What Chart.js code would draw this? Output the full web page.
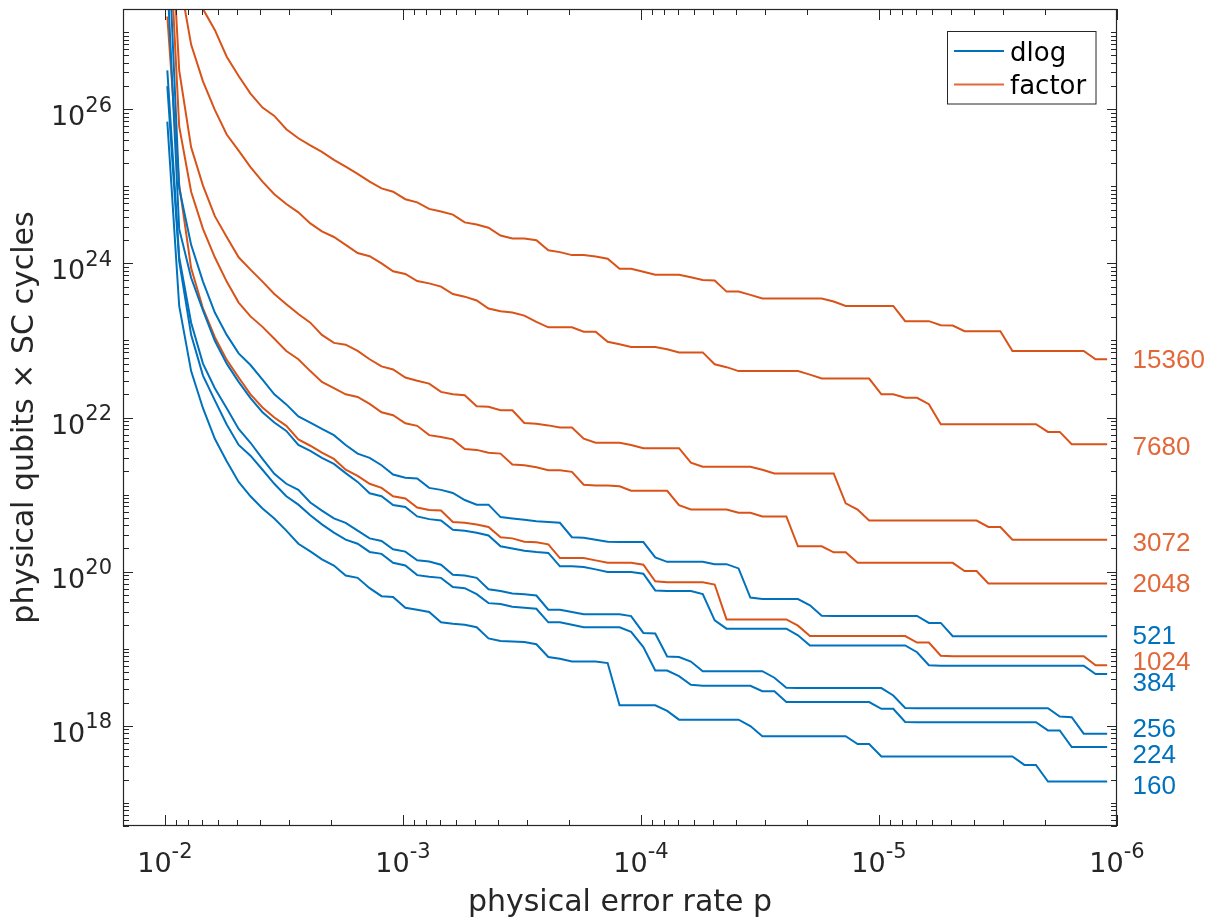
<!DOCTYPE html>
<html>
<head>
<meta charset="utf-8">
<title>physical qubits × SC cycles vs physical error rate</title>
<script src="https://cdn.jsdelivr.net/npm/chart.js@4.4.1/dist/chart.umd.min.js"></script>
<style>
  html, body { margin: 0; padding: 0; background: #fff; }
  canvas { display: block; }
</style>
</head>
<body>
<canvas id="costChart" width="1215" height="917"></canvas>
<script>
// physical error rates p where every curve was evaluated (20 per decade)
const errorRates = [
  9.77e-3, 8.71e-3, 7.76e-3, 6.92e-3, 6.17e-3, 5.50e-3, 4.90e-3, 4.37e-3, 3.89e-3, 3.47e-3,
  3.09e-3, 2.75e-3, 2.45e-3, 2.19e-3, 1.95e-3, 1.74e-3, 1.55e-3, 1.38e-3, 1.23e-3, 1.10e-3,
  9.77e-4, 8.71e-4, 7.76e-4, 6.92e-4, 6.17e-4, 5.50e-4, 4.90e-4, 4.37e-4, 3.89e-4, 3.47e-4,
  3.09e-4, 2.75e-4, 2.45e-4, 2.19e-4, 1.95e-4, 1.74e-4, 1.55e-4, 1.38e-4, 1.23e-4, 1.10e-4,
  9.77e-5, 8.71e-5, 7.76e-5, 6.92e-5, 6.17e-5, 5.50e-5, 4.90e-5, 4.37e-5, 3.89e-5, 3.47e-5,
  3.09e-5, 2.75e-5, 2.45e-5, 2.19e-5, 1.95e-5, 1.74e-5, 1.55e-5, 1.38e-5, 1.23e-5, 1.10e-5,
  9.77e-6, 8.71e-6, 7.76e-6, 6.92e-6, 6.17e-6, 5.50e-6, 4.90e-6, 4.37e-6, 3.89e-6, 3.47e-6,
  3.09e-6, 2.75e-6, 2.45e-6, 2.19e-6, 1.95e-6, 1.74e-6, 1.55e-6, 1.38e-6, 1.23e-6, 1.10e-6
];

// physical qubits x SC cycles, discrete log problem (bits)
const dlog160 = [
  6.9e25, 2.8e23, 4.0e22, 1.32e22, 5.3e21, 2.7e21, 1.46e21, 9.5e20, 6.6e20, 4.9e20,
  3.4e20, 2.3e20, 1.83e20, 1.44e20, 1.2e20, 8.9e19, 8.3e19, 6.1e19, 4.8e19, 4.7e19,
  3.4e19, 3.2e19, 3.0e19, 2.2e19, 2.1e19, 2.05e19, 1.9e19, 1.36e19, 1.26e19, 1.24e19,
  1.22e19, 1.14e19, 7.8e18, 7.4e18, 6.8e18, 6.8e18, 6.8e18, 6.5e18, 1.84e18, 1.84e18,
  1.84e18, 1.84e18, 1.56e18, 1.2e18, 1.2e18, 1.2e18, 1.2e18, 1.2e18, 1.2e18, 9.9e17,
  7.3e17, 7.3e17, 7.3e17, 7.3e17, 7.3e17, 7.3e17, 7.3e17, 7.3e17, 5.8e17, 5.8e17,
  4.0e17, 4.0e17, 4.0e17, 4.0e17, 4.0e17, 4.0e17, 4.0e17, 4.0e17, 4.0e17, 4.0e17,
  4.0e17, 4.0e17, 3.1e17, 3.1e17, 1.89e17, 1.89e17, 1.89e17, 1.89e17, 1.89e17, 1.89e17
];
const dlog224 = [
  2.0e26, 1.07e24, 1.18e23, 3.5e22, 1.67e22, 8.1e21, 4.4e21, 3.2e21, 2.1e21, 1.38e21,
  9.5e20, 7.4e20, 5.4e20, 4.1e20, 3.2e20, 2.6e20, 2.3e20, 1.8e20, 1.7e20, 1.3e20,
  1.2e20, 9.0e19, 8.6e19, 8.3e19, 6.3e19, 6.1e19, 5.1e19, 3.9e19, 3.8e19, 3.5e19,
  3.4e19, 3.3e19, 2.2e19, 2.2e19, 2.04e19, 1.9e19, 1.9e19, 1.9e19, 1.9e19, 1.65e19,
  1.05e19, 5.2e18, 5.2e18, 4.4e18, 3.4e18, 3.3e18, 3.3e18, 3.3e18, 3.3e18, 3.3e18,
  2.8e18, 2.8e18, 2.04e18, 2.03e18, 2.03e18, 2.03e18, 2.03e18, 2.03e18, 2.03e18, 2.03e18,
  1.66e18, 1.66e18, 1.12e18, 1.11e18, 1.11e18, 1.11e18, 1.11e18, 1.11e18, 1.11e18, 1.11e18,
  1.11e18, 1.11e18, 1.11e18, 1.11e18, 8.7e17, 8.7e17, 5.3e17, 5.3e17, 5.3e17, 5.3e17
];
const dlog256 = [
  3.2e26, 1.2e24, 1.7e23, 5.0e22, 2.4e22, 1.32e22, 7.1e21, 4.7e21, 2.9e21, 1.86e21,
  1.38e21, 1.15e21, 7.9e20, 6.2e20, 4.9e20, 4.3e20, 3.4e20, 2.7e20, 2.5e20, 1.95e20,
  1.82e20, 1.4e20, 1.35e20, 1.23e20, 9.1e19, 8.9e19, 8.3e19, 5.9e19, 5.6e19, 5.2e19,
  5.1e19, 4.9e19, 3.2e19, 3.2e19, 3.0e19, 2.8e19, 2.8e19, 2.8e19, 2.8e19, 2.65e19,
  1.6e19, 1.57e19, 7.9e18, 7.8e18, 6.8e18, 5.1e18, 5.1e18, 5.1e18, 5.1e18, 5.1e18,
  5.1e18, 4.2e18, 3.1e18, 3.08e18, 3.08e18, 3.08e18, 3.08e18, 3.08e18, 3.08e18, 3.08e18,
  3.08e18, 2.47e18, 1.7e18, 1.69e18, 1.69e18, 1.69e18, 1.69e18, 1.69e18, 1.69e18, 1.69e18,
  1.69e18, 1.69e18, 1.69e18, 1.69e18, 1.69e18, 1.32e18, 1.29e18, 7.9e17, 7.9e17, 7.9e17
];
const dlog384 = [
  5e27, 2.8e24, 6.5e23, 2.45e23, 9.9e22, 5.0e22, 2.9e22, 1.78e22, 1.17e22, 8.6e21,
  6.7e21, 4.4e21, 3.7e21, 3.0e21, 2.5e21, 1.9e21, 1.46e21, 1.04e21, 9.5e20, 7.3e20,
  6.9e20, 5.2e20, 4.8e20, 4.6e20, 3.5e20, 3.4e20, 3.2e20, 2.95e20, 2.13e20, 2.0e20,
  1.87e20, 1.8e20, 1.75e20, 1.17e20, 1.17e20, 1.15e20, 1.07e20, 9.9e19, 9.9e19, 9.9e19,
  9.4e19, 5.7e19, 5.6e19, 5.6e19, 5.6e19, 5.1e19, 2.33e19, 1.82e19, 1.82e19, 1.82e19,
  1.82e19, 1.82e19, 1.82e19, 1.49e19, 1.1e19, 1.1e19, 1.1e19, 1.1e19, 1.1e19, 1.1e19,
  1.1e19, 1.1e19, 1.1e19, 9.0e18, 6.1e18, 6.0e18, 6.0e18, 6.0e18, 6.0e18, 6.0e18,
  6.0e18, 6.0e18, 6.0e18, 6.0e18, 6.0e18, 6.0e18, 6.0e18, 6.0e18, 4.7e18, 4.7e18
];
const dlog521 = [
  3e28, 9.5e24, 1.74e24, 5.8e23, 2.3e23, 1.18e23, 6.8e22, 4.8e22, 3.1e22, 2.0e22,
  1.48e22, 1.03e22, 8.6e21, 7.1e21, 5.9e21, 4.4e21, 3.4e21, 3.0e21, 2.4e21, 1.82e21,
  1.65e21, 1.62e21, 1.22e21, 1.15e21, 1.05e21, 8.5e20, 7.4e20, 7.4e20, 5.1e20, 4.9e20,
  4.7e20, 4.5e20, 4.4e20, 4.3e20, 2.8e20, 2.75e20, 2.6e20, 2.44e20, 2.42e20, 2.42e20,
  2.42e20, 1.53e20, 1.34e20, 1.34e20, 1.34e20, 1.34e20, 1.25e20, 1.25e20, 1.1e20, 4.6e19,
  4.4e19, 4.4e19, 4.4e19, 4.4e19, 3.65e19, 2.67e19, 2.66e19, 2.66e19, 2.66e19, 2.66e19,
  2.66e19, 2.66e19, 2.66e19, 2.66e19, 2.16e19, 2.16e19, 1.45e19, 1.45e19, 1.45e19, 1.45e19,
  1.45e19, 1.45e19, 1.45e19, 1.45e19, 1.45e19, 1.45e19, 1.45e19, 1.45e19, 1.45e19, 1.45e19
];

// physical qubits x SC cycles, factoring (bits)
const factor1024 = [
  1.6e27, 1.05e25, 8.7e23, 2.6e23, 1.1e23, 5.6e22, 3.3e22, 2.0e22, 1.35e22, 1.0e22,
  7.8e21, 5.2e21, 4.3e21, 3.5e21, 2.9e21, 2.1e21, 1.75e21, 1.38e21, 1.22e21, 9.5e20,
  8.9e20, 6.8e20, 6.3e20, 6.2e20, 4.4e20, 4.3e20, 4.1e20, 3.8e20, 2.8e20, 2.7e20,
  2.44e20, 2.4e20, 2.26e20, 1.5e20, 1.5e20, 1.5e20, 1.4e20, 1.3e20, 1.3e20, 1.3e20,
  1.23e20, 7.5e19, 7.3e19, 7.3e19, 7.3e19, 7.3e19, 6.8e19, 2.4e19, 2.4e19, 2.4e19,
  2.4e19, 2.4e19, 2.4e19, 1.99e19, 1.46e19, 1.46e19, 1.46e19, 1.46e19, 1.46e19, 1.46e19,
  1.46e19, 1.46e19, 1.46e19, 1.2e19, 1.2e19, 8.1e18, 8.0e18, 8.0e18, 8.0e18, 8.0e18,
  8.0e18, 8.0e18, 8.0e18, 8.0e18, 8.0e18, 8.0e18, 8.0e18, 8.0e18, 6.1e18, 6.1e18
];
const factor2048 = [
  6.6e28, 6.0e25, 8.5e24, 2.8e24, 1.2e24, 5.8e23, 3.1e23, 2.05e23, 1.5e23, 1.05e23,
  7.3e22, 5.7e22, 4.0e22, 2.9e22, 2.4e22, 2.0e22, 1.85e22, 1.5e22, 1.17e22, 1.07e22,
  8.4e21, 7.8e21, 5.9e21, 5.6e21, 5.2e21, 3.9e21, 3.8e21, 3.5e21, 3.4e21, 2.45e21,
  2.4e21, 2.26e21, 2.07e21, 2.07e21, 1.97e21, 1.34e21, 1.31e21, 1.31e21, 1.28e21, 1.12e21,
  1.12e21, 1.12e21, 1.12e21, 7.3e20, 6.4e20, 6.4e20, 6.4e20, 6.4e20, 5.8e20, 5.8e20,
  5.2e20, 5.2e20, 5.2e20, 2.13e20, 2.13e20, 2.13e20, 1.78e20, 1.78e20, 1.3e20, 1.3e20,
  1.3e20, 1.3e20, 1.3e20, 1.3e20, 1.3e20, 1.3e20, 1.3e20, 1.02e20, 1.02e20, 7.0e19,
  7.0e19, 7.0e19, 7.0e19, 7.0e19, 7.0e19, 7.0e19, 7.0e19, 7.0e19, 7.0e19, 7.0e19
];
const factor3072 = [
  2.2e29, 3.2e26, 3.2e25, 1.02e25, 4.1e24, 2.2e24, 1.2e24, 8.3e23, 5.8e23, 4.0e23,
  2.95e23, 2.2e23, 1.7e23, 1.18e23, 9.3e22, 8.8e22, 7.3e22, 5.7e22, 4.6e22, 4.2e22,
  3.3e22, 3.0e22, 2.75e22, 2.15e22, 2.0e22, 1.95e22, 1.4e22, 1.38e22, 1.24e22, 1.24e22,
  8.5e21, 8.3e21, 7.9e21, 7.4e21, 7.4e21, 5.3e21, 4.7e21, 4.7e21, 4.7e21, 4.4e21,
  4.0e21, 4.0e21, 4.0e21, 4.0e21, 2.6e21, 2.3e21, 2.3e21, 2.3e21, 2.3e21, 2.3e21,
  2.1e21, 1.88e21, 1.88e21, 1.88e21, 1.88e21, 1.88e21, 1.88e21, 7.7e20, 6.4e20, 4.6e20,
  4.6e20, 4.6e20, 4.6e20, 4.6e20, 4.6e20, 4.6e20, 4.6e20, 4.6e20, 4.6e20, 3.8e20,
  3.8e20, 2.6e20, 2.6e20, 2.6e20, 2.6e20, 2.6e20, 2.6e20, 2.6e20, 2.6e20, 2.6e20
];
const factor7680 = [
  2.3e29, 5.2e27, 6.9e26, 2.3e26, 9.8e25, 4.7e25, 2.9e25, 1.78e25, 1.15e25, 7.9e24,
  5.9e24, 4.6e24, 3.3e24, 2.6e24, 2.2e24, 1.74e24, 1.36e24, 1.24e24, 1.0e24, 7.9e23,
  7.3e23, 5.9e23, 5.5e23, 5.0e23, 4.0e23, 3.7e23, 3.3e23, 2.6e23, 2.4e23, 2.3e23,
  2.1e23, 1.74e23, 1.48e23, 1.48e23, 1.48e23, 1.3e23, 1.3e23, 9.6e22, 8.9e22, 8.2e22,
  8.2e22, 8.2e22, 7.7e22, 7.0e22, 7.0e22, 7.0e22, 4.9e22, 4.5e22, 4.0e22, 4.0e22,
  4.0e22, 4.0e22, 4.0e22, 4.0e22, 3.6e22, 3.2e22, 3.2e22, 3.2e22, 3.2e22, 3.2e22,
  2.0e22, 2.0e22, 1.8e22, 1.8e22, 1.49e22, 8.2e21, 8.2e21, 8.2e21, 8.2e21, 8.2e21,
  8.2e21, 8.2e21, 8.2e21, 8.2e21, 6.5e21, 6.5e21, 4.5e21, 4.5e21, 4.5e21, 4.5e21
];
const factor15360 = [
  1e30, 7e28, 6.4e27, 2.0e27, 1.07e27, 4.8e26, 2.7e26, 1.6e26, 1.05e26, 8.2e25,
  5.5e25, 4.2e25, 3.4e25, 2.8e25, 2.2e25, 1.8e25, 1.45e25, 1.15e25, 9.4e24, 8.5e24,
  6.8e24, 6.2e24, 5.1e24, 4.7e24, 4.3e24, 3.4e24, 3.2e24, 2.9e24, 2.3e24, 2.1e24,
  2.1e24, 2.0e24, 1.48e24, 1.4e24, 1.28e24, 1.28e24, 1.23e24, 1.15e24, 8.5e23, 8.5e23,
  7.8e23, 7.1e23, 7.1e23, 7.1e23, 6.6e23, 6.1e23, 6.0e23, 4.3e23, 4.3e23, 3.9e23,
  3.5e23, 3.5e23, 3.5e23, 3.5e23, 3.5e23, 3.5e23, 3.2e23, 2.8e23, 2.8e23, 2.8e23,
  2.8e23, 2.8e23, 1.78e23, 1.78e23, 1.78e23, 1.58e23, 1.56e23, 1.32e23, 1.32e23, 1.32e23,
  1.32e23, 7.3e22, 7.3e22, 7.3e22, 7.3e22, 7.3e22, 7.3e22, 7.3e22, 5.7e22, 5.7e22
];

// axis ticks
const xMajorTicks = [1e-2, 1e-3, 1e-4, 1e-5, 1e-6];
const xTickExponents = ['-2', '-3', '-4', '-5', '-6'];
const yMajorTicks = [1e18, 1e20, 1e22, 1e24, 1e26];
const yTickExponents = ['18', '20', '22', '24', '26'];

// key sizes written next to the curve ends
const endLabels = ['15360', '7680', '3072', '2048', '521', '1024', '384', '256', '224', '160'];
const endLabelValues = [5.4e22, 4.0e21, 2.3e20, 6.7e19, 1.43e19, 6.6e18, 3.5e18, 8.8e17, 4.1e17, 1.6e17];
const endLabelGroups = ['factor', 'factor', 'factor', 'factor', 'dlog', 'factor', 'dlog', 'dlog', 'dlog', 'dlog'];
const endLabelP = 8.6e-7;

const legendNames = ['dlog', 'factor'];

const AXIS_COLOR = '#262626';
const COLORS = { dlog: '#0072BD', factor: '#D95319' };
const TEXT_COLORS = { dlog: '#0072BD', factor: '#E2683A' };
const FONT = '"DejaVu Sans"';

function toPoints(values) {
  return errorRates.map((p, i) => ({ x: p, y: values[i] }));
}

const curves = [
  { label: 'dlog 160', values: dlog160, group: 'dlog' },
  { label: 'dlog 224', values: dlog224, group: 'dlog' },
  { label: 'dlog 256', values: dlog256, group: 'dlog' },
  { label: 'dlog 384', values: dlog384, group: 'dlog' },
  { label: 'dlog 521', values: dlog521, group: 'dlog' },
  { label: 'factor 1024', values: factor1024, group: 'factor' },
  { label: 'factor 2048', values: factor2048, group: 'factor' },
  { label: 'factor 3072', values: factor3072, group: 'factor' },
  { label: 'factor 7680', values: factor7680, group: 'factor' },
  { label: 'factor 15360', values: factor15360, group: 'factor' }
];

// k * 10^e values inside [min, max] that are not major ticks
function minorTicks(min, max, majors) {
  const out = [];
  for (let e = Math.floor(Math.log10(min)); e <= Math.ceil(Math.log10(max)); e++) {
    for (let k = 1; k <= 9; k++) {
      const v = k * Math.pow(10, e);
      if (v < min * 0.999 || v > max * 1.001) continue;
      if (majors.some(m => Math.abs(m - v) / m < 1e-6)) continue;
      out.push(v);
    }
  }
  return out;
}

// "10" with a raised exponent
function powerLabel(ctx, exp, anchorX, baseline, supBaseline, align) {
  ctx.font = '27px ' + FONT;
  const wBase = ctx.measureText('10').width;
  ctx.font = '21px ' + FONT;
  const wExp = ctx.measureText(exp).width;
  const left = align === 'center' ? anchorX - (wBase + wExp) / 2 : anchorX - wBase - wExp;
  ctx.textAlign = 'left';
  ctx.textBaseline = 'alphabetic';
  ctx.font = '27px ' + FONT;
  ctx.fillText('10', left, baseline);
  ctx.font = '21px ' + FONT;
  ctx.fillText(exp, left + wBase, supBaseline);
}

const matlabFrame = {
  id: 'matlabFrame',
  afterDraw(chart) {
    const { ctx, chartArea: area } = chart;
    const xs = chart.scales.x;
    const ys = chart.scales.y;
    ctx.save();

    // box
    ctx.strokeStyle = AXIS_COLOR;
    ctx.lineWidth = 1.2;
    ctx.strokeRect(area.left + 0.5, area.top + 0.5, area.right - area.left - 1, area.bottom - area.top - 1);

    // inward ticks on all four sides
    ctx.lineWidth = 1;
    ctx.beginPath();
    const xTick = (v, len) => {
      const px = Math.round(xs.getPixelForValue(v)) + 0.5;
      ctx.moveTo(px, area.bottom); ctx.lineTo(px, area.bottom - len);
      ctx.moveTo(px, area.top); ctx.lineTo(px, area.top + len);
    };
    const yTick = (v, len) => {
      const py = Math.round(ys.getPixelForValue(v)) + 0.5;
      ctx.moveTo(area.left, py); ctx.lineTo(area.left + len, py);
      ctx.moveTo(area.right, py); ctx.lineTo(area.right - len, py);
    };
    minorTicks(xs.min, xs.max, xMajorTicks).forEach(v => xTick(v, 6));
    xMajorTicks.forEach(v => xTick(v, 11));
    minorTicks(ys.min, ys.max, yMajorTicks).forEach(v => yTick(v, 6));
    yMajorTicks.forEach(v => yTick(v, 10));
    ctx.stroke();

    // tick labels
    ctx.fillStyle = AXIS_COLOR;
    xMajorTicks.forEach((v, i) => {
      powerLabel(ctx, xTickExponents[i], xs.getPixelForValue(v), area.bottom + 46, area.bottom + 32, 'center');
    });
    yMajorTicks.forEach((v, i) => {
      const py = ys.getPixelForValue(v);
      powerLabel(ctx, yTickExponents[i], area.left - 11, py + 16, py + 2.5, 'right');
    });

    // axis titles
    ctx.font = '30px ' + FONT;
    ctx.textAlign = 'center';
    ctx.textBaseline = 'alphabetic';
    ctx.fillText('physical error rate p', (area.left + area.right) / 2, 911);
    ctx.save();
    ctx.translate(33, (area.top + area.bottom) / 2);
    ctx.rotate(-Math.PI / 2);
    ctx.fillText('physical qubits \u00d7 SC cycles', 0, 0);
    ctx.restore();

    // legend box, top right inside the axes
    ctx.fillStyle = '#fff';
    ctx.fillRect(947.5, 31.5, 148.5, 72.5);
    ctx.strokeStyle = AXIS_COLOR;
    ctx.lineWidth = 1;
    ctx.strokeRect(947.5, 31.5, 148.5, 72.5);
    legendNames.forEach((name, i) => {
      const ly = 51 + i * 33.5;
      ctx.strokeStyle = TEXT_COLORS[name];
      ctx.lineWidth = 2;
      ctx.beginPath();
      ctx.moveTo(954, ly); ctx.lineTo(1004, ly);
      ctx.stroke();
      ctx.fillStyle = '#000';
      ctx.font = '26px ' + FONT;
      ctx.textAlign = 'left';
      ctx.fillText(name, 1010, 61 + i * 32.5);
    });

    // key sizes at the right end of each curve
    ctx.font = '26px "Liberation Sans", Arial, sans-serif';
    ctx.textAlign = 'left';
    ctx.textBaseline = 'middle';
    const lx = xs.getPixelForValue(endLabelP);
    endLabels.forEach((text, i) => {
      ctx.fillStyle = TEXT_COLORS[endLabelGroups[i]];
      ctx.fillText(text, lx, ys.getPixelForValue(endLabelValues[i]));
    });

    ctx.restore();
  }
};

new Chart(document.getElementById('costChart'), {
  type: 'line',
  data: {
    datasets: curves.map(c => ({
      label: c.label,
      data: toPoints(c.values),
      borderColor: COLORS[c.group],
      backgroundColor: COLORS[c.group],
      borderWidth: 2,
      pointRadius: 0,
      tension: 0,
      fill: false
    }))
  },
  options: {
    responsive: false,
    animation: false,
    layout: { padding: { left: 123, right: 98, top: 9, bottom: 91 } },
    scales: {
      x: { type: 'logarithmic', reverse: true, min: 1e-6, max: 0.015, display: false },
      y: { type: 'logarithmic', min: 5e16, max: 2e27, display: false }
    },
    plugins: {
      legend: { display: false },
      tooltip: { enabled: false }
    }
  },
  plugins: [matlabFrame]
});
</script>
</body>
</html>
